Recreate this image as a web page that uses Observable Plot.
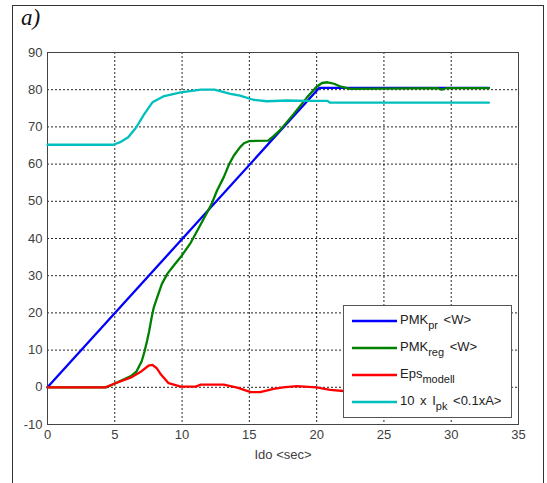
<!DOCTYPE html>
<html><head><meta charset="utf-8">
<script src="https://cdn.jsdelivr.net/npm/d3@7"></script>
<script src="https://cdn.jsdelivr.net/npm/@observablehq/plot@0.6"></script>
<style>
html,body{margin:0;padding:0;background:#fff;overflow:hidden;}
#wrap{position:relative;width:547px;height:483px;overflow:hidden;}
#outer{position:absolute;left:12px;top:5px;width:532px;height:540px;border:1.5px solid #333;box-sizing:border-box;}
#panel{position:absolute;left:21px;top:5px;font-family:"Liberation Serif","DejaVu Serif",serif;font-style:italic;font-size:23px;color:#111;}
#chart{position:absolute;left:0;top:0;}
#legend{position:absolute;left:343px;top:305px;width:169px;height:113px;box-sizing:border-box;border:1px solid #555;background:#fff;font-family:"Liberation Sans",Arial,sans-serif;font-size:13px;color:#222;}
.row{position:absolute;left:0;height:20px;width:169px;}
.row svg{position:absolute;left:8px;top:0;}
.row span{position:absolute;left:56px;top:1px;white-space:nowrap;word-spacing:2px;}
sub{font-size:11px;vertical-align:-5px;line-height:0;}
</style>
</head><body>
<div id="wrap">
  <div id="outer"></div>
  <div id="chart"></div>
  <div id="panel">a)</div>
  <div id="legend"></div>
</div>
<script>
// ---- data ----
const xTicks = [0, 5, 10, 15, 20, 25, 30, 35];
const yTicks = [-10, 0, 10, 20, 30, 40, 50, 60, 70, 80, 90];

const pmkPrT = [0, 20.2, 32.8];
const pmkPrV = [0, 80.5, 80.5];

const pmkRegT = [0, 4.4, 5.0, 5.6, 6.2, 6.6, 7.0, 7.2, 7.4, 7.55, 7.75, 7.9, 8.15, 8.5, 8.9, 9.4, 9.9, 10.6, 11.4, 12.2, 12.6, 13.1, 13.5, 13.85, 14.3, 14.6, 15.0, 16.4, 16.8, 17.3, 18.3, 19.3, 20.0, 20.4, 20.8, 21.3, 21.8, 22.5, 25, 29, 29.3, 29.6, 32.8];
const pmkRegV = [0, 0, 1.0, 2.0, 3.0, 4.2, 7.0, 9.5, 12.5, 15, 19, 21.5, 24.2, 27.8, 30.5, 32.8, 35, 38.6, 43.9, 49.3, 52.9, 56.5, 60, 62.3, 64.5, 65.6, 66.2, 66.3, 67.5, 69.2, 73.5, 78, 80.8, 81.8, 82, 81.6, 80.8, 80.2, 80.3, 80.4, 80.0, 80.4, 80.4];

const epsT = [0, 4.3, 5.05, 6.17, 6.9, 7.5, 7.8, 8.1, 8.4, 9.0, 9.9, 11.0, 11.4, 13.1, 14.1, 15.1, 15.8, 16.8, 17.5, 18.5, 20.0, 21.0, 22.0, 32.8];
const epsV = [0, 0, 1.1, 2.6, 4.1, 5.8, 6.0, 5.2, 3.6, 1.1, 0.2, 0.2, 0.7, 0.7, -0.1, -1.3, -1.3, -0.4, 0.0, 0.3, 0.0, -0.7, -1.0, -1.0];

const ipkT = [0, 4.9, 5.4, 6.0, 6.6, 7.2, 7.8, 8.6, 9.9, 11.4, 12.4, 13.6, 14.3, 15.3, 16.3, 17.8, 19.3, 20.8, 21.0, 32.8];
const ipkV = [65.2, 65.2, 65.9, 67.2, 69.9, 73.5, 76.6, 78.2, 79.3, 80.0, 80.0, 78.9, 78.4, 77.3, 76.9, 77.1, 77.0, 77.0, 76.5, 76.5];

const seriesNames = ["pr", "reg", "eps", "ipk"];
const seriesColors = ["#0000ff", "#008000", "#ff0000", "#00bfbf"];
const seriesLabels = ["PMK<sub>pr</sub> &lt;W&gt;", "PMK<sub>reg</sub> &lt;W&gt;", "Eps<sub>modell</sub>", "10 x I<sub>pk</sub> &lt;0.1xA&gt;"];
const xLabel = "Ido <sec>";

// ---- build table ----
const raw = [[pmkPrT, pmkPrV], [pmkRegT, pmkRegV], [epsT, epsV], [ipkT, ipkV]];
const data = [];
raw.forEach(([ts, vs], i) => ts.forEach((t, j) => data.push({s: seriesNames[i], t, v: vs[j]})));

const fmt = d => String(d);

const chart = Plot.plot({
  width: 547, height: 483,
  marginLeft: 47, marginRight: 29, marginTop: 52, marginBottom: 59,
  style: {fontFamily: "'Liberation Sans', Arial, sans-serif", fontSize: "13px", color: "#404040", background: "transparent"},
  x: {domain: [0, 35], label: null},
  y: {domain: [-10, 90], label: null},
  color: {domain: seriesNames, range: seriesColors},
  marks: [
    Plot.gridX(xTicks, {stroke: "#000", strokeOpacity: 0.85, strokeDasharray: "2,2"}),
    Plot.gridY(yTicks, {stroke: "#000", strokeOpacity: 0.85, strokeDasharray: "2,2"}),
    Plot.frame({stroke: "#444"}),
    Plot.axisX(xTicks, {tickSize: 0, tickPadding: 5, fill: "#404040", label: null, tickFormat: fmt}),
    Plot.axisY(yTicks, {tickSize: 0, tickPadding: 5, fill: "#404040", label: null, tickFormat: fmt}),
    Plot.line(data, {x: "t", y: "v", z: "s", stroke: "s", strokeWidth: 2.3}),
    Plot.text([xLabel], {frameAnchor: "bottom", dy: 30, lineAnchor: "middle", fill: "#404040", fontSize: 13})
  ]
});
document.getElementById("chart").appendChild(chart);

// ---- legend ----
const lg = document.getElementById("legend");
const rowTops = [5, 32, 59, 86];
seriesNames.forEach((s, i) => {
  const r = document.createElement("div");
  r.className = "row";
  r.style.top = rowTops[i] + "px";
  r.innerHTML = `<svg width="46" height="20"><line x1="0" x2="45" y1="10" y2="10" stroke="${seriesColors[i]}" stroke-width="2.3"/></svg><span>${seriesLabels[i]}</span>`;
  lg.appendChild(r);
});
</script>
</body></html>
